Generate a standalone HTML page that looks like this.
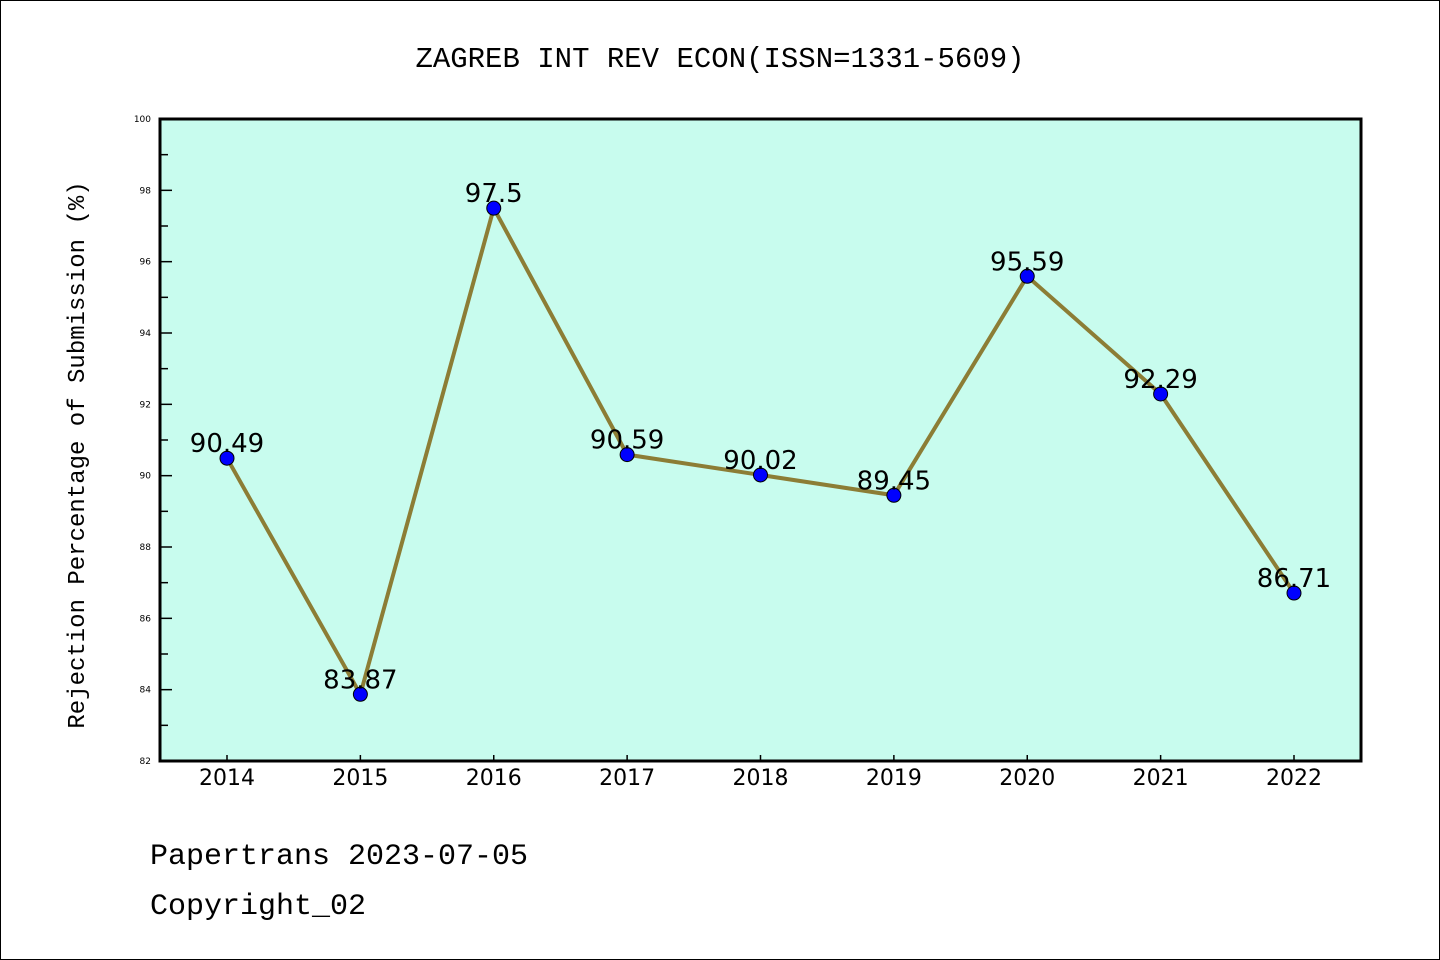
<!DOCTYPE html>
<html><head><meta charset="utf-8"><style>body{margin:0;background:#fff}svg{display:block}</style></head>
<body>
<svg width="1440" height="960" xmlns="http://www.w3.org/2000/svg">
<rect x="0.5" y="0.5" width="1439" height="959" fill="#fff" stroke="#000"/>
<text x="720" y="67" text-anchor="middle" font-family="Liberation Mono, monospace" font-size="29">ZAGREB INT REV ECON(ISSN=1331-5609)</text>
<rect x="160" y="119" width="1201" height="642" fill="#c8fcee"/>
<g id="axes"></g>
<g id="marks"></g>
<rect x="160" y="119" width="1201" height="642" fill="none" stroke="#000" stroke-width="3"/>
<text transform="translate(84,455) rotate(-90)" text-anchor="middle" font-family="Liberation Mono, monospace" font-size="24">Rejection Percentage of Submission (%)</text>
<text x="150" y="864" font-family="Liberation Mono, monospace" font-size="30">Papertrans 2023-07-05</text>
<text x="150" y="914" font-family="Liberation Mono, monospace" font-size="30">Copyright_02</text>
</svg>
<script>
const years = ["2014","2015","2016","2017","2018","2019","2020","2021","2022"];
const rates = [90.49,83.87,97.5,90.59,90.02,89.45,95.59,92.29,86.71];
const labels = ["90.49","83.87","97.5","90.59","90.02","89.45","95.59","92.29","86.71"];
const yTicks = [82,84,86,88,90,92,94,96,98,100];
const NS="http://www.w3.org/2000/svg";
const yMin=82,yMax=100,yTop=119,yBot=761;
const y=v=>yBot-(v-yMin)/(yMax-yMin)*(yBot-yTop);
const x=i=>227+i*(1294-227)/(years.length-1);
function mk(t,a,p){const e=document.createElementNS(NS,t);for(const k in a)e.setAttribute(k,a[k]);p.appendChild(e);return e;}
const ax=document.getElementById('axes'),mg=document.getElementById('marks');
yTicks.forEach(v=>{
  const l=mk('line',{x1:160,x2:172,y1:y(v),y2:y(v),stroke:'#000','stroke-width':1.5},ax);
  
  
  const t=mk('text',{x:151,y:y(v)+3,'text-anchor':'end','font-family':'DejaVu Sans, sans-serif','font-size':9},ax);
  t.textContent=v;
  
  
  if(v<yMax){const m=mk('line',{x1:160,x2:168,y1:y(v+1),y2:y(v+1),stroke:'#000','stroke-width':1.5},ax);
  
  }
});
years.forEach((yr,i)=>{
  const l=mk('line',{x1:x(i),x2:x(i),y1:yBot,y2:yBot-6,stroke:'#000','stroke-width':1.5},ax);
  
  
  const t=mk('text',{x:x(i),y:785,'text-anchor':'middle','font-family':'DejaVu Sans, sans-serif','font-size':22},ax);
  t.textContent=yr;
  
  
});
const pl=mk('polyline',{points:rates.map((v,i)=>x(i)+','+y(v)).join(' '),fill:'none',stroke:'#8c7d35','stroke-width':4},mg);


rates.forEach((v,i)=>{
  const c=mk('circle',{cx:x(i),cy:y(v),r:7,fill:'#0000ff',stroke:'#000','stroke-width':1},mg);
  
  
  const t=mk('text',{x:x(i),y:y(v)-6,'text-anchor':'middle','font-family':'DejaVu Sans, sans-serif','font-size':26},mg);
  t.textContent=labels[i];
  
  
});
</script>
</body></html>
